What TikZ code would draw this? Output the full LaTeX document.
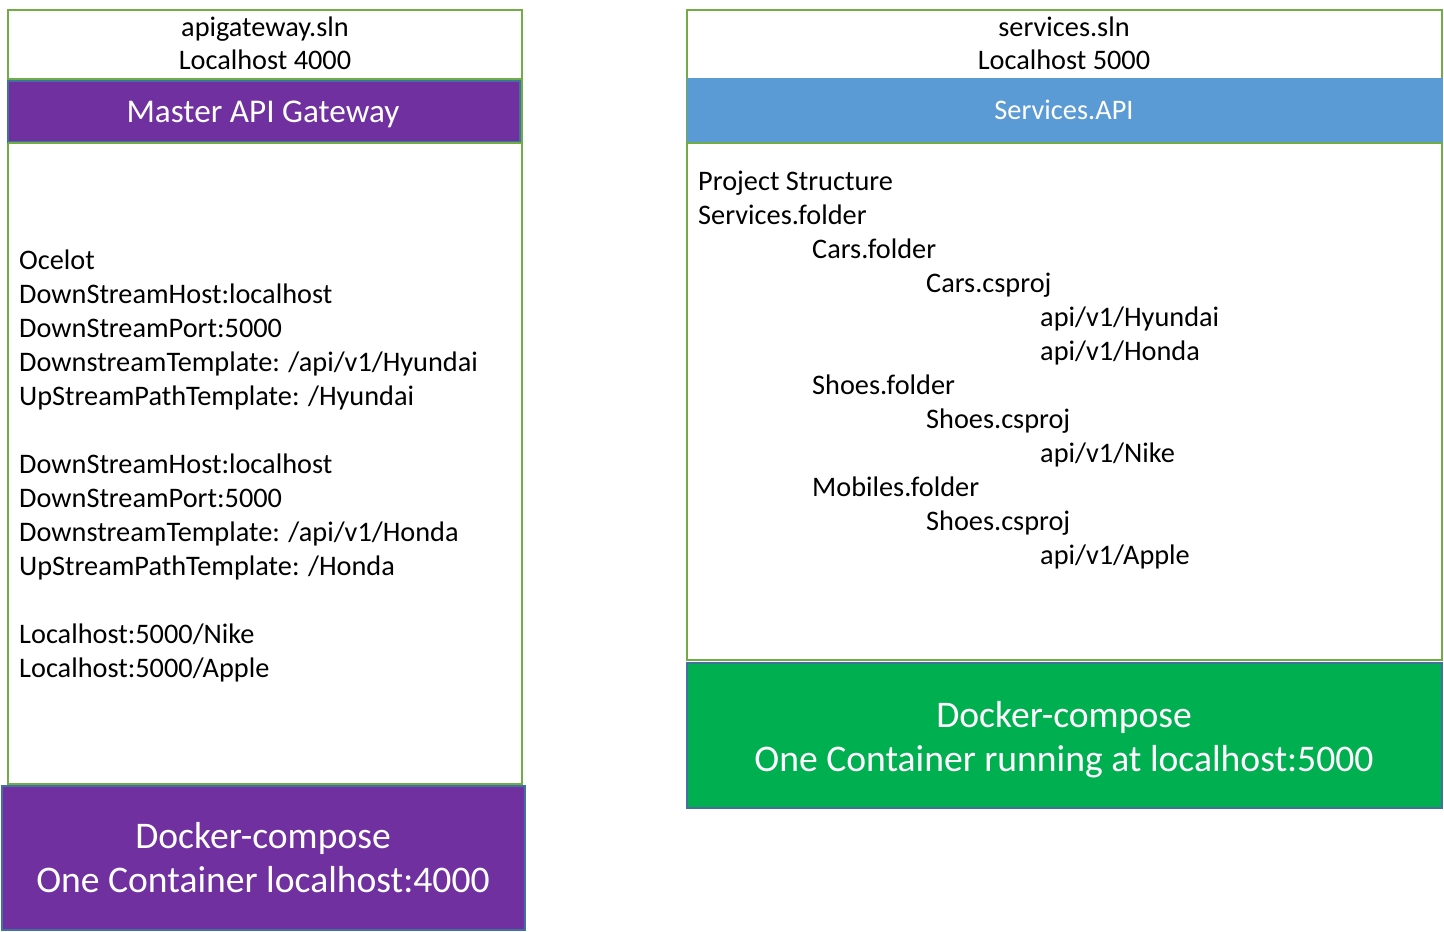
\documentclass[tikz,border=0pt]{standalone}
\usepackage{fontspec}
\setmainfont{Carlito}
\definecolor{gborder}{HTML}{70AD47}
\definecolor{bborder}{HTML}{41719C}
\definecolor{purp}{HTML}{7030A0}
\definecolor{sblue}{HTML}{5B9BD5}
\definecolor{dgreen}{HTML}{00B050}
\tikzset{
  txt/.style={anchor=base west, inner sep=0pt, font=\fontsize{28.3}{34}\selectfont},
  ctxt/.style={anchor=base, inner sep=0pt, font=\fontsize{28.3}{34}\selectfont},
  bigw/.style={anchor=base, inner sep=0pt, text=white, font=\fontsize{37.6}{44}\selectfont},
  outline/.style={draw=gborder, line width=1.5pt},
}
\begin{document}
\begin{tikzpicture}[x=1pt,y=-1pt]
\useasboundingbox (0,0) rectangle (1444,932);
% left column
\draw[outline, fill=white] (8,10) rectangle (522,784);
\draw[gborder, line width=1.5pt] (8,79) -- (522,79);
\draw[fill=purp, draw=bborder, line width=1.5pt] (8,81) rectangle (520,142);
\draw[gborder, line width=1.5pt] (8,143) -- (522,143);
\draw[fill=purp, draw=bborder, line width=1.5pt] (2,786) rectangle (525,930);
\node[ctxt] (lsln) at (265,36) {apigateway.sln};
\node[ctxt] (lhost) at (265,69) {Localhost 4000};
\node[anchor=base, inner sep=0pt, text=white, font=\fontsize{33.2}{38}\selectfont] (gw) at (263,122) {Master API Gateway};
\node[txt] (l1) at (19,269) {Ocelot};
\node[txt] (l2) at (19,303) {DownStreamHost:localhost};
\node[txt] (l3) at (19,337) {DownStreamPort:5000};
\node[txt] (l4) at (19,371) {DownstreamTemplate: /api/v1/Hyundai};
\node[txt] (l5) at (19,405) {UpStreamPathTemplate: /Hyundai};
\node[txt] (l6) at (19,473) {DownStreamHost:localhost};
\node[txt] (l7) at (19,507) {DownStreamPort:5000};
\node[txt] (l8) at (19,541) {DownstreamTemplate: /api/v1/Honda};
\node[txt] (l9) at (19,575) {UpStreamPathTemplate: /Honda};
\node[txt] (l10) at (19,643) {Localhost:5000/Nike};
\node[txt] (l11) at (19,677) {Localhost:5000/Apple};
\node[bigw] (ld1) at (263,848) {Docker-compose};
\node[bigw] (ld2) at (263,892) {One Container localhost:4000};
% right column
\draw[outline, fill=white] (687,10) rectangle (1442,660);
\draw[fill=sblue, draw=sblue] (687,78) rectangle (1442,142);
\draw[gborder, line width=1.5pt] (687,143) -- (1442,143);
\draw[fill=dgreen, draw=bborder, line width=1.5pt] (687,663) rectangle (1442,808);
\node[ctxt] (rsln) at (1064,36) {services.sln};
\node[ctxt] (rhost) at (1064,69) {Localhost 5000};
\node[anchor=base, inner sep=0pt, text=white, font=\fontsize{28.3}{34}\selectfont] (sapi) at (1064,119) {Services.API};
\node[txt] (r1) at (698,190) {Project Structure};
\node[txt] (r2) at (698,224) {Services.folder};
\node[txt] (r3) at (812,258) {Cars.folder};
\node[txt] (r4) at (926,292) {Cars.csproj};
\node[txt] (r5) at (1040,326) {api/v1/Hyundai};
\node[txt] (r6) at (1040,360) {api/v1/Honda};
\node[txt] (r7) at (812,394) {Shoes.folder};
\node[txt] (r8) at (926,428) {Shoes.csproj};
\node[txt] (r9) at (1040,462) {api/v1/Nike};
\node[txt] (r10) at (812,496) {Mobiles.folder};
\node[txt] (r11) at (926,530) {Shoes.csproj};
\node[txt] (r12) at (1040,564) {api/v1/Apple};
\node[bigw] (rd1) at (1064,727) {Docker-compose};
\node[bigw] (rd2) at (1064,771) {One Container running at localhost:5000};
\end{tikzpicture}
\end{document}
